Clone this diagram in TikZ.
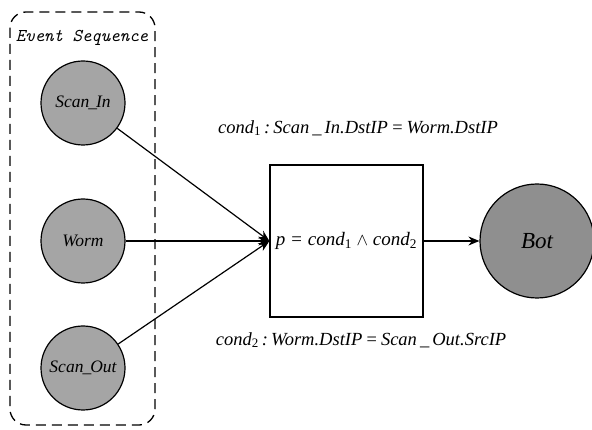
\documentclass[tikz,border=0pt]{standalone}
\usepackage{fontspec}
\setmainfont{Liberation Serif}
\usetikzlibrary{arrows.meta}
\begin{document}
\begin{tikzpicture}[x=1pt,y=-1pt,
  event/.style={circle,draw,line width=1.2pt,fill=evgray,minimum size=84pt,inner sep=0pt,
    font=\fontsize{17.5}{20}\selectfont\itshape},
  link/.style={line width=1.2pt,-{Stealth[length=11pt,width=9pt]}},
  cond/.style={font=\fontsize{18.5}{21}\selectfont\itshape,inner sep=0pt}]
\definecolor{evgray}{HTML}{A5A5A5}
\definecolor{botgray}{HTML}{8F8F8F}
\useasboundingbox (0,0) rectangle (592,430);

% group of input events
\draw[line width=1.3pt,dash pattern=on 10pt off 6pt,rounded corners=16pt]
  (10,12) rectangle (155,425);
\node[font=\fontsize{18}{20}\selectfont\ttfamily\itshape,inner sep=0pt] (seq) at (82,38) {Event Sequence};

\node[event] (scanin) at (83,103) {Scan\kern-1pt\_\kern-1pt In};
\node[event] (worm) at (83,241) {Worm};
\node[event] (scanout) at (83,368) {Scan\kern-1pt\_\kern-1pt Out};

% correlation predicate
\node[draw,line width=1.2pt,minimum width=153pt,minimum height=152pt,inner sep=0pt,
  font=\fontsize{19}{22}\selectfont\itshape] (pred) at (346.5,241)
  {p = cond\textsubscript{\upshape 1} $\wedge$ cond\textsubscript{\upshape 2}};
\coordinate (in) at (pred.west);

\node[circle,draw,line width=1.2pt,fill=botgray,minimum size=114pt,inner sep=0pt,
  font=\fontsize{23}{26}\selectfont\itshape] (bot) at (537,241) {Bot};

\draw[link] (scanin) -- (in);
\draw[link] (worm) -- (in);
\draw[link] (scanout) -- (in);
\draw[link] (pred) -- (bot);

\node[cond] (c1) at (358,128) {cond\textsubscript{\upshape 1}\,:\,Scan\,\_\,In.DstIP\,=\,Worm.DstIP};
\node[cond] (c2) at (361,340) {cond\textsubscript{\upshape 2}\,:\,Worm.DstIP\,=\,Scan\,\_\,Out.SrcIP};
\end{tikzpicture}
\end{document}
